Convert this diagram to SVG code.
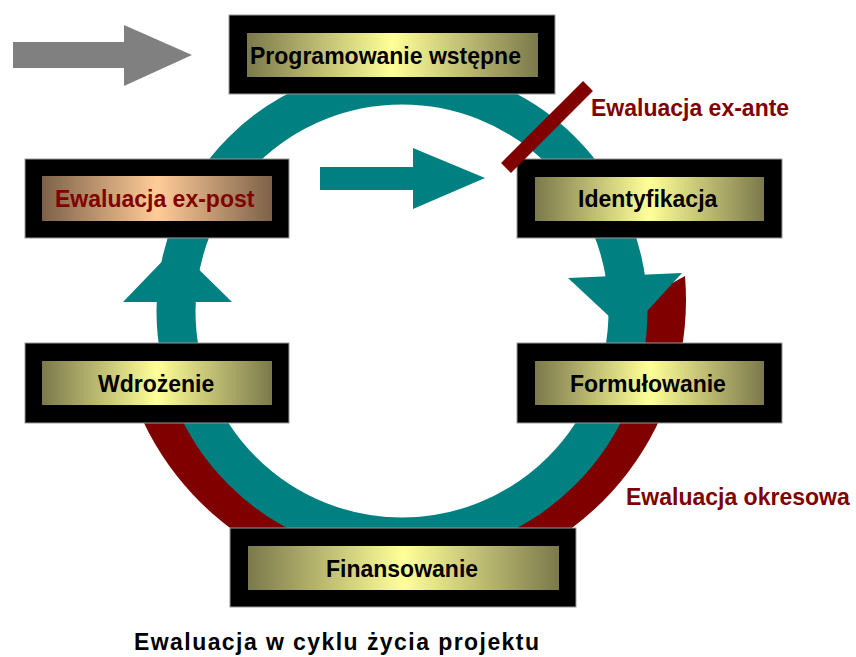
<svg xmlns="http://www.w3.org/2000/svg" width="856" height="657" viewBox="0 0 856 657">
<defs>
<linearGradient id="gy" x1="0" y1="0" x2="1" y2="0">
<stop offset="0" stop-color="#7b794b"/>
<stop offset="0.5" stop-color="#ffff99"/>
<stop offset="1" stop-color="#7b794b"/>
</linearGradient>
<linearGradient id="gb" x1="0" y1="0" x2="1" y2="0">
<stop offset="0" stop-color="#7d6148"/>
<stop offset="0.5" stop-color="#ffcc99"/>
<stop offset="1" stop-color="#7d6148"/>
</linearGradient>
<style>
.outer{fill:#000;stroke:#9a9a9a;stroke-width:1}
.inner{fill:url(#gy)}
.innerb{fill:url(#gb)}
.t{font-family:"Liberation Sans",Arial,sans-serif;font-weight:bold;font-size:23px;fill:#000}
.r{fill:#800000}
.teal{fill:#008080}
</style>
</defs>
<rect width="856" height="657" fill="#fff"/>
<g id="connectors">
<path id="ewaluacja-okresowa-band" class="r" d="M685,276 A285,285 0 0,1 129,385 L174,385 A240,240 0 0,0 641.7,300 Z"/>
<circle id="cycle-ring" cx="402" cy="311" r="226" fill="none" stroke="#008080" stroke-width="39"/>
<polygon id="arrowhead-left" class="teal" points="123,302 232,302 176,247"/>
<polygon id="arrowhead-right" class="teal" points="568,278 682,273 627,333"/>
<polygon id="arrow-straight" class="teal" points="320,167 413,167 413,148 485,178 413,209 413,190 320,190"/>
<polygon id="arrow-gray" fill="#808080" points="13,42 124,42 124,25 192,55 124,86 124,68 13,68"/>
</g>
<g id="node-programowanie">
<rect class="outer" x="229" y="15" width="326" height="79"/>
<rect class="inner" x="247" y="33" width="291" height="44"/>
<text class="t" x="250" y="64">Programowanie wstępne</text>
</g>
<g id="node-expost">
<rect class="outer" x="25" y="159" width="264" height="79"/>
<rect class="innerb" x="42" y="176" width="230" height="45"/>
<text class="t" x="55" y="207" fill="#800000" style="fill:#800000">Ewaluacja ex-post</text>
</g>
<g id="node-identyfikacja">
<rect class="outer" x="517" y="159" width="265" height="79"/>
<rect class="inner" x="535" y="177" width="229" height="44"/>
<text class="t" x="578" y="207">Identyfikacja</text>
</g>
<g id="node-wdrozenie">
<rect class="outer" x="25" y="343" width="264" height="80"/>
<rect class="inner" x="42" y="361" width="230" height="44"/>
<text class="t" x="98" y="392">Wdrożenie</text>
</g>
<g id="node-formulowanie">
<rect class="outer" x="517" y="343" width="265" height="80"/>
<rect class="inner" x="535" y="361" width="229" height="44"/>
<text class="t" x="570" y="392">Formułowanie</text>
</g>
<g id="node-finansowanie">
<rect class="outer" x="230" y="528" width="346" height="79"/>
<rect class="inner" x="248" y="546" width="311" height="44"/>
<text class="t" x="326" y="577">Finansowanie</text>
</g>
<g id="exante">
<line x1="506" y1="168" x2="588" y2="86" stroke="#800000" stroke-width="14"/>
<text class="t" x="591" y="116" style="fill:#800000">Ewaluacja ex-ante</text>
</g>
<text id="label-okresowa" class="t" x="626" y="505" style="fill:#800000">Ewaluacja okresowa</text>
<text id="title" class="t" x="134" y="650" textLength="405" lengthAdjust="spacing">Ewaluacja w cyklu życia projektu</text>
</svg>
